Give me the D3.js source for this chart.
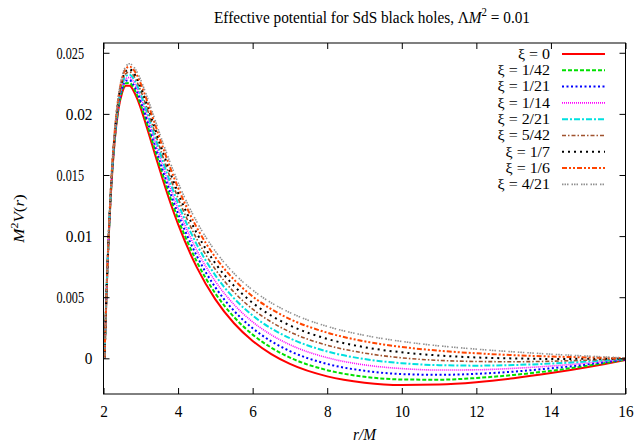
<html>
<head>
<meta charset="utf-8">
<title>Effective potential for SdS black holes</title>
<style type="text/css">
    body { margin: 0; background: #fff; }
    svg text { font-family: "Liberation Serif", "Times New Roman", serif; fill: #000; }
    .axis path, .axis line { stroke: #000; }
    .curve { fill: none; }
</style>
</head>
<body>
<script src="https://cdn.jsdelivr.net/npm/d3@7/dist/d3.min.js"></script>
<script>

// r/M sample points
var rValues = [2.028, 2.05, 2.1, 2.2, 2.3, 2.4, 2.5, 2.6, 2.7, 2.8, 2.9, 3.0, 3.2, 3.4, 3.6, 3.8, 4.0, 4.5, 5, 5.5, 6, 6.5, 7, 8, 9, 10, 11, 12, 13, 14, 15, 16];

// M^2 V(r), one list per xi
var v0    = [0, 0.00234, 0.00689, 0.01355, 0.01779, 0.02035, 0.02174, 0.02231, 0.02231, 0.02192, 0.02127, 0.02045, 0.01853, 0.01650, 0.01453, 0.01267, 0.01098, 0.00746, 0.00482, 0.00287, 0.00142, 0.00034, -0.00046, -0.00148, -0.00199, -0.00218, -0.00214, -0.00195, -0.00163, -0.00121, -0.00071, -0.00013];
var v1_42 = [0, 0.00235, 0.00692, 0.01362, 0.01790, 0.02049, 0.02191, 0.02251, 0.02253, 0.02217, 0.02154, 0.02074, 0.01886, 0.01686, 0.01491, 0.01308, 0.01141, 0.00792, 0.00531, 0.00338, 0.00194, 0.00087, 0.00006, -0.00097, -0.00151, -0.00173, -0.00175, -0.00161, -0.00136, -0.00102, -0.00060, -0.00011];
var v1_21 = [0, 0.00236, 0.00695, 0.01369, 0.01800, 0.02063, 0.02208, 0.02270, 0.02276, 0.02241, 0.02181, 0.02102, 0.01918, 0.01721, 0.01529, 0.01348, 0.01183, 0.00839, 0.00581, 0.00389, 0.00246, 0.00139, 0.00059, -0.00046, -0.00102, -0.00129, -0.00135, -0.00127, -0.00109, -0.00082, -0.00049, -0.00009];
var v1_14 = [0, 0.00237, 0.00698, 0.01376, 0.01811, 0.02077, 0.02225, 0.02290, 0.02298, 0.02266, 0.02207, 0.02131, 0.01951, 0.01757, 0.01567, 0.01389, 0.01226, 0.00885, 0.00630, 0.00440, 0.00298, 0.00192, 0.00111, 0.00005, -0.00054, -0.00084, -0.00096, -0.00094, -0.00082, -0.00063, -0.00038, -0.00007];
var v2_21 = [0, 0.00238, 0.00702, 0.01383, 0.01822, 0.02091, 0.02242, 0.02310, 0.02320, 0.02291, 0.02234, 0.02160, 0.01983, 0.01793, 0.01605, 0.01429, 0.01268, 0.00932, 0.00679, 0.00491, 0.00350, 0.00244, 0.00164, 0.00056, -0.00006, -0.00040, -0.00056, -0.00060, -0.00055, -0.00043, -0.00026, -0.00005];
var v5_42 = [0, 0.00239, 0.00705, 0.01390, 0.01833, 0.02105, 0.02259, 0.02330, 0.02343, 0.02316, 0.02261, 0.02189, 0.02016, 0.01828, 0.01644, 0.01470, 0.01311, 0.00978, 0.00728, 0.00542, 0.00402, 0.00297, 0.00216, 0.00107, 0.00043, 0.00004, -0.00017, -0.00026, -0.00028, -0.00024, -0.00015, -0.00003];
var v1_7  = [0, 0.00240, 0.00708, 0.01397, 0.01843, 0.02119, 0.02276, 0.02350, 0.02365, 0.02340, 0.02288, 0.02218, 0.02048, 0.01864, 0.01682, 0.01510, 0.01353, 0.01025, 0.00777, 0.00593, 0.00454, 0.00349, 0.00269, 0.00159, 0.00091, 0.00049, 0.00023, 0.00007, -0.00001, -0.00005, -0.00004, -0.00001];
var v1_6  = [0, 0.00241, 0.00711, 0.01405, 0.01854, 0.02134, 0.02293, 0.02370, 0.02387, 0.02365, 0.02315, 0.02247, 0.02080, 0.01899, 0.01720, 0.01551, 0.01396, 0.01071, 0.00827, 0.00644, 0.00506, 0.00402, 0.00321, 0.00210, 0.00139, 0.00093, 0.00062, 0.00041, 0.00026, 0.00015, 0.00007, 0.00001];
var v4_21 = [0, 0.00242, 0.00714, 0.01412, 0.01865, 0.02148, 0.02310, 0.02389, 0.02410, 0.02390, 0.02342, 0.02276, 0.02113, 0.01935, 0.01758, 0.01592, 0.01438, 0.01118, 0.00876, 0.00695, 0.00558, 0.00454, 0.00374, 0.00261, 0.00188, 0.00138, 0.00102, 0.00075, 0.00053, 0.00034, 0.00018, 0.00003];

var labels = ["0", "1/42", "1/21", "1/14", "2/21", "5/42", "1/7", "1/6", "4/21"];
var seriesValues = [v0, v1_42, v1_21, v1_14, v2_21, v5_42, v1_7, v1_6, v4_21];

var xTicks = [2, 4, 6, 8, 10, 12, 14, 16];
var yTicks = [0, 0.005, 0.01, 0.015, 0.02, 0.025];

// gnuplot-ish line styles
var colors = ["#ff0000", "#00e000", "#0000ff", "#ff00ff", "#00e0e0", "#a0522d", "#000000", "#ff4500", "#909090"];
var dashes = [null, "4,2", "2,2.5", "1,1", "6,2,2,2", "4,2,1.5,2", "2,4", "5,2,2,2,2,2", "1.5,1,1.5,1,1.5,3"];
var widths = [2, 2, 2, 1.6, 2, 1.6, 2, 2, 1.6];

var serif = "'Liberation Serif', 'Times New Roman', serif";
// the original text is a little narrow
var sx = 0.9, fs = 17;

var margin = {top: 43, right: 11.5, bottom: 51, left: 103.5},
    W = 637, H = 445,
    width  = W - margin.left - margin.right,
    height = H - margin.top - margin.bottom;

var svg = d3.select("body")
    .append("svg")
    .attr("width", W)
    .attr("height", H);

var chart = svg.append("g")
    .attr("transform", "translate(" + margin.left + "," + margin.top + ")");

var xScale = d3.scaleLinear().domain([2, 16]).range([0, width]);
var yScale = d3.scaleLinear().domain([-0.00292, 0.0258]).range([height, 0]);

chart.append("clipPath").attr("id", "clip")
    .append("rect").attr("width", width).attr("height", height);

var line = d3.line()
    .x(function(d){ return xScale(d[0]); })
    .y(function(d){ return yScale(d[1]); })
    .curve(d3.curveMonotoneX);

var plot = chart.append("g").attr("clip-path", "url(#clip)");

seriesValues.forEach(function(vals, i){
    var pts = rValues.map(function(r, j){ return [r, vals[j]]; });
    plot.append("path")
        .attr("class", "curve")
        .attr("d", line(pts))
        .attr("stroke", colors[i])
        .attr("stroke-width", widths[i])
        .attr("stroke-dasharray", dashes[i]);
});

// axes with ticks inside on all four sides
var tickLen = 6;
chart.append("g").attr("class", "axis")
    .attr("transform", "translate(0," + height + ")")
    .call(d3.axisBottom(xScale).tickValues(xTicks).tickSizeInner(-tickLen).tickSizeOuter(0).tickPadding(11))
    .call(function(g){
        g.attr("font-family", null).attr("font-size", null);
        g.select(".domain").remove();
        g.selectAll("text")
            .style("font-family", serif)
            .style("font-size", fs + "px")
            .attr("transform", "scale(" + sx + ",1)");
    });

chart.append("g").attr("class", "axis")
    .call(d3.axisTop(xScale).tickValues(xTicks).tickSizeInner(-tickLen).tickSizeOuter(0).tickFormat(""))
    .call(function(g){ g.select(".domain").remove(); });

// y labels: the three-decimal ones sit further left and narrower in the original
chart.append("g").attr("class", "axis")
    .call(d3.axisLeft(yScale).tickValues(yTicks).tickSizeInner(-tickLen).tickSizeOuter(0).tickPadding(11)
        .tickFormat(function(d){ return d === 0 ? "0" : String(+d.toFixed(3)); }))
    .call(function(g){
        g.attr("font-family", null).attr("font-size", null);
        g.select(".domain").remove();
        g.selectAll("text").each(function(d){
            var t = d3.select(this);
            var long = t.text().length > 4;
            var s = long ? 0.72 : sx;
            var xEnd = long ? -19.5 : -11;
            t.style("font-family", serif)
             .style("font-size", fs + "px")
             .attr("x", xEnd / s)
             .attr("transform", "scale(" + s + ",1)");
        });
    });

chart.append("g").attr("class", "axis")
    .attr("transform", "translate(" + width + ",0)")
    .call(d3.axisRight(yScale).tickValues(yTicks).tickSizeInner(-tickLen).tickSizeOuter(0).tickFormat(""))
    .call(function(g){ g.select(".domain").remove(); });

chart.append("rect")
    .attr("width", width)
    .attr("height", height)
    .attr("fill", "none")
    .attr("stroke", "#000")
    .attr("stroke-width", 1);

// title
var title = svg.append("text")
    .attr("transform", "translate(372,23) scale(" + sx + ",1)")
    .attr("text-anchor", "middle")
    .style("font-family", serif)
    .style("font-size", fs + "px");
title.append("tspan").text("Effective potential for SdS black holes, \u039B");
title.append("tspan").style("font-style", "italic").text("M");
title.append("tspan").attr("dy", -7).style("font-size", "12px").text("2");
title.append("tspan").attr("dy", 7).text(" = 0.01");

// x label
svg.append("text")
    .attr("transform", "translate(" + (margin.left + width / 2) + ",440) scale(" + sx + ",1)")
    .attr("text-anchor", "middle")
    .style("font-family", serif)
    .style("font-size", fs + "px")
    .style("font-style", "italic")
    .text("r/M");

// y label
var yl = svg.append("text")
    .attr("transform", "translate(24," + (margin.top + height / 2) + ") scale(" + sx + ",1) rotate(-90)")
    .attr("text-anchor", "middle")
    .style("font-family", serif)
    .style("font-size", fs + "px");
yl.append("tspan").style("font-style", "italic").text("M");
yl.append("tspan").attr("dy", -7).style("font-size", "12px").text("2");
yl.append("tspan").attr("dy", 7).style("font-style", "italic").text("V");
yl.append("tspan").text("(");
yl.append("tspan").style("font-style", "italic").text("r");
yl.append("tspan").text(")");

// legend
var legend = svg.append("g");
labels.forEach(function(lab, i){
    var y = 54 + i * 16.3;
    legend.append("text")
        .attr("transform", "translate(550," + y + ") scale(1.1,1)")
        .attr("dy", "0.33em")
        .attr("text-anchor", "end")
        .style("font-family", serif)
        .style("font-size", "14.5px")
        .text("\u03BE = " + lab);
    legend.append("line")
        .attr("x1", 562).attr("x2", 605)
        .attr("y1", y).attr("y2", y)
        .attr("stroke", colors[i])
        .attr("stroke-width", widths[i])
        .attr("stroke-dasharray", dashes[i]);
});

</script>
</body>
</html>
